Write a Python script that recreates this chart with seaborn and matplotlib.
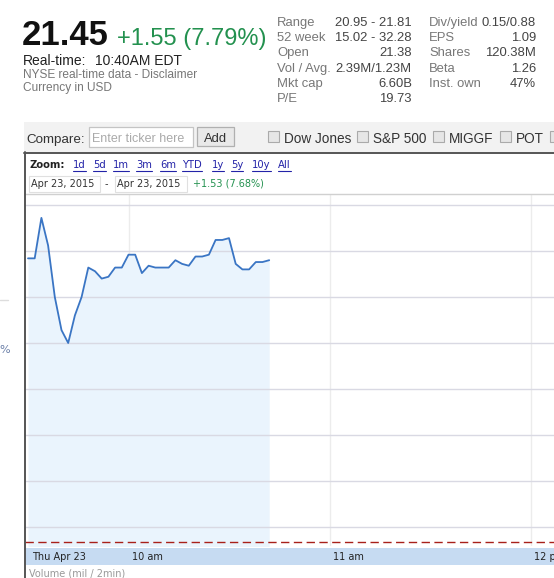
import matplotlib
matplotlib.use("Agg")
import matplotlib.pyplot as plt
import matplotlib.transforms as mtransforms
from matplotlib.patches import Rectangle
import pandas as pd
import seaborn as sns

# intraday quote, 2-minute samples starting 9:30 (minutes after open)
minutes = [0, 2, 4, 6, 8, 10, 12, 14, 16, 18, 20, 22, 24, 26, 28, 30, 32, 34, 36,
           38, 40, 42, 44, 46, 48, 50, 52, 54, 56, 58, 60, 62, 64, 66, 68, 70, 72]
prices = [21.46, 21.46, 21.68, 21.53, 21.25, 21.07, 21.00, 21.15, 21.25, 21.41,
          21.39, 21.35, 21.36, 21.41, 21.41, 21.48, 21.48, 21.38, 21.42, 21.41,
          21.41, 21.41, 21.45, 21.43, 21.42, 21.47, 21.47, 21.48, 21.56, 21.56,
          21.57, 21.43, 21.40, 21.40, 21.44, 21.44, 21.45]
prev_close = 19.92
price_grid = [20.00, 20.25, 20.50, 20.75, 21.00, 21.25, 21.50, 21.75]
time_ticks = [30, 90, 150]
time_labels = ["10 am", "11 am", "12 pm"]

# quote header
last_price = "21.45"
change_text = "+1.55 (7.79%)"
stat_labels_1 = ["Range", "52 week", "Open", "Vol / Avg.", "Mkt cap", "P/E"]
stat_values_1 = ["20.95 - 21.81", "15.02 - 32.28", "21.38", "2.39M/1.23M", "6.60B", "19.73"]
stat_labels_2 = ["Div/yield", "EPS", "Shares", "Beta", "Inst. own"]
stat_values_2 = ["0.15/0.88", "1.09", "120.38M", "1.26", "47%"]
compare_items = ["Dow Jones", "S&P 500", "MIGGF", "POT", ""]
zoom_links = ["1d", "5d", "1m", "3m", "6m", "YTD", "1y", "5y", "10y", "All"]

W, H = 554, 578
GREEN = "#23914f"
LINE = "#3a75c4"
FILL = "#eaf4fd"

sns.set_style("white")
plt.rcParams["font.family"] = ["Liberation Sans", "DejaVu Sans"]

fig = plt.figure(figsize=(W / 100, H / 100), dpi=100)
fig.patch.set_facecolor("white")


def px_box(left, top, right, bottom):
    return [left / W, 1 - bottom / H, (right - left) / W, (bottom - top) / H]


# ---- price chart ----
ax = fig.add_axes(px_box(25, 194, 554, 546), zorder=1)
df = pd.DataFrame({"minute": minutes, "price": prices})
ax.fill_between(df["minute"], df["price"], 19.0, color=FILL, lw=0, zorder=1)
sns.lineplot(data=df, x="minute", y="price", ax=ax, color=LINE, lw=1.3, zorder=3)
for p in price_grid:
    ax.axhline(p, color="#d9d9e3", lw=1, zorder=2)
for t in time_ticks:
    ax.axvline(t, color="#ececec", lw=1, zorder=0.5)
ax.axhline(prev_close, color="#a8201a", lw=1, dashes=(6, 3.2), zorder=4)
ax.set_xlim(-(28 - 25) / 3.35, (554 - 28) / 3.35)
ax.set_ylim(21.50 - (546 - 251) / 184, 21.50 + (251 - 194) / 184)
ax.set_xticks(time_ticks)
ax.set_xticklabels([])
ax.set_yticks([])
ax.tick_params(axis="x", direction="in", length=4, width=1, color="#333")
ax.set_xlabel("")
ax.set_ylabel("")
for s in ["left", "right", "bottom"]:
    ax.spines[s].set_visible(False)
ax.spines["top"].set_color("#d0d0d0")
ax.spines["top"].set_linewidth(1)

# ---- page chrome in pixel coordinates ----
ch = fig.add_axes([0, 0, 1, 1], zorder=5)
ch.set_xlim(0, W)
ch.set_ylim(H, 0)
ch.axis("off")
ch.patch.set_alpha(0)

# header
ch.text(22, 45, last_price, fontsize=25, fontweight="bold", color="#111", va="baseline")
ch.text(117, 45, change_text, fontsize=17, color=GREEN, va="baseline")
ch.text(23, 65, "Real-time:", fontsize=10, color="#222", va="baseline")
ch.text(95, 65, "10:40AM EDT", fontsize=10, color="#222", va="baseline")
ch.text(23, 78, "NYSE real-time data - Disclaimer", fontsize=8.6, color="#777", va="baseline")
ch.text(23, 91, "Currency in USD", fontsize=8.6, color="#777", va="baseline")

for i, (lab, val) in enumerate(zip(stat_labels_1, stat_values_1)):
    yb = 26 + i * 15.2
    ch.text(277, yb, lab, fontsize=9.4, color="#777", va="baseline")
    ch.text(412, yb, val, fontsize=9.4, color="#444", va="baseline", ha="right")
for i, (lab, val) in enumerate(zip(stat_labels_2, stat_values_2)):
    yb = 26 + i * 15.2
    ch.text(429, yb, lab, fontsize=9.4, color="#777", va="baseline")
    ch.text(536, yb, val, fontsize=9.4, color="#444", va="baseline", ha="right")

# compare bar
ch.add_patch(Rectangle((24, 122), 540, 30, color="#f2f2f2", lw=0))
ch.plot([24, 560], [152.5, 152.5], color="#555", lw=1.4)
ch.plot([24.5, 24.5], [152, 580], color="#555", lw=1.4)
ch.text(26, 143, "Compare:", fontsize=9.6, color="#333", va="baseline")
ch.add_patch(Rectangle((89, 127), 104, 20, facecolor="white", edgecolor="#c4c4c4", lw=0.9))
ch.text(92, 142.5, "Enter ticker here", fontsize=9, color="#aaa", va="baseline")
ch.add_patch(Rectangle((197, 127), 37, 19, facecolor="#e9e9e9", edgecolor="#b0b0b0", lw=0.9))
ch.text(215.5, 142, "Add", fontsize=9.4, color="#333", va="baseline", ha="center")
for bx, name in zip([268, 357, 433, 500, 550], compare_items):
    ch.add_patch(Rectangle((bx, 131), 11, 11, facecolor="#e6e6e6", edgecolor="#aaa", lw=0.8))
    ch.text(bx + 16, 143, name, fontsize=9.8, color="#333", va="baseline")

# zoom links and date range
ch.text(29, 168, "Zoom:", fontsize=7.2, fontweight="bold", family="DejaVu Sans",
        color="#222", va="baseline")
link_x = [73, 93, 113, 136, 160, 182, 212, 231, 252, 278]
link_texts = []
for lx, lk in zip(link_x, zoom_links):
    link_texts.append(ch.text(lx, 168, lk, fontsize=7.2, family="DejaVu Sans",
                              color="#2323a8", va="baseline"))
ch.add_patch(Rectangle((29, 176), 71, 16, facecolor="white", edgecolor="#e0e0e0", lw=0.8))
ch.add_patch(Rectangle((115, 176), 72, 16, facecolor="white", edgecolor="#e0e0e0", lw=0.8))
ch.text(31, 187, "Apr 23, 2015", fontsize=7, family="DejaVu Sans", color="#333", va="baseline")
ch.text(105, 187, "-", fontsize=7, family="DejaVu Sans", color="#333", va="baseline")
ch.text(117, 187, "Apr 23, 2015", fontsize=7, family="DejaVu Sans", color="#333", va="baseline")
ch.text(193, 187, "+1.53 (7.68%)", fontsize=7, family="DejaVu Sans", color=GREEN, va="baseline")

# time axis band, tick labels and volume caption
ch.add_patch(Rectangle((25, 548), 540, 17, color="#c6dbf2", lw=0))
ch.text(32, 560, "Thu Apr 23", fontsize=7, family="DejaVu Sans", color="#222", va="baseline")
blend = mtransforms.blended_transform_factory(ax.transData, ch.transData)
lbl_tr = mtransforms.offset_copy(blend, fig=fig, x=3.5, y=0, units="dots")
for t, lab in zip(time_ticks, time_labels):
    ch.text(t, 560, lab, transform=lbl_tr, ha="left", va="baseline",
            fontsize=7, family="DejaVu Sans", color="#222", clip_on=False)
ch.text(29, 577, "Volume (mil / 2min)", fontsize=7, family="DejaVu Sans", color="#999",
        va="baseline")

# fragments of the neighbouring column at the far left
ch.plot([0, 8], [300, 300], color="#dddddd", lw=1)
ch.text(-1, 353, "%", fontsize=8, family="DejaVu Sans", color="#6a7fa8", va="baseline")

# underline the zoom links
fig.canvas.draw()
renderer = fig.canvas.get_renderer()
for t in link_texts:
    bb = t.get_window_extent(renderer)
    ch.plot([bb.x0, bb.x1], [171, 171], color="#2323a8", lw=0.8)

fig.savefig("out.png", dpi=100)
